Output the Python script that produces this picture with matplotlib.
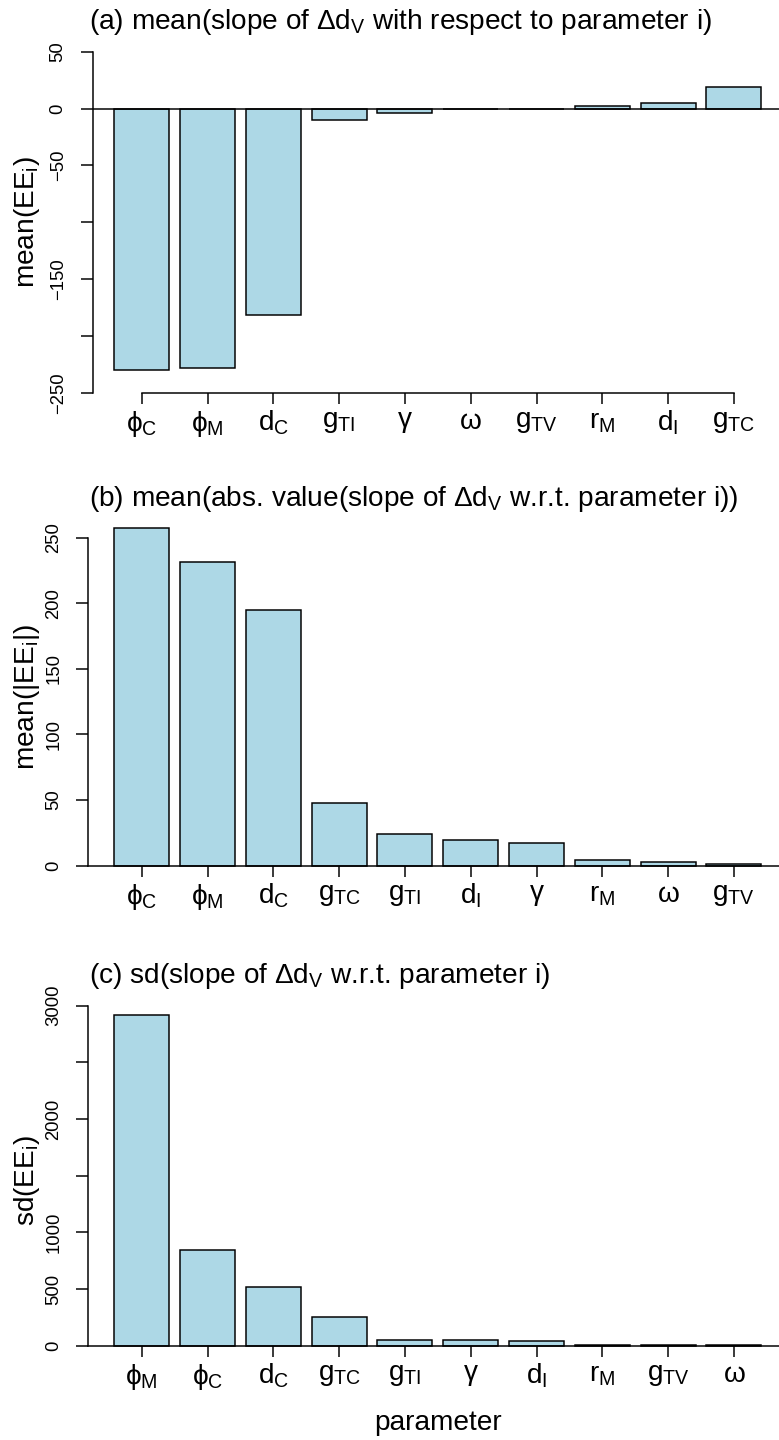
import matplotlib
matplotlib.use('Agg')
import matplotlib.pyplot as plt
import numpy as np

plt.rcParams['font.family'] = ['Liberation Sans', 'DejaVu Sans']
plt.rcParams['mathtext.fontset'] = 'custom'
plt.rcParams['mathtext.rm'] = 'Liberation Sans'
plt.rcParams['mathtext.it'] = 'Liberation Sans'
plt.rcParams['mathtext.bf'] = 'Liberation Sans:bold'
plt.rcParams['mathtext.sf'] = 'Liberation Sans'

# ---------------- data ----------------
labels_a = [r'$\phi_{\mathrm{C}}$', r'$\phi_{\mathrm{M}}$', r'$\mathrm{d}_{\mathrm{C}}$',
            r'$\mathrm{g}_{\mathrm{TI}}$', r'$\gamma$', r'$\omega$',
            r'$\mathrm{g}_{\mathrm{TV}}$', r'$\mathrm{r}_{\mathrm{M}}$',
            r'$\mathrm{d}_{\mathrm{I}}$', r'$\mathrm{g}_{\mathrm{TC}}$']
mean_ee = [-230, -228, -182, -9.7, -3.5, -0.6, -0.4, 1.8, 5.3, 19]

labels_b = [r'$\phi_{\mathrm{C}}$', r'$\phi_{\mathrm{M}}$', r'$\mathrm{d}_{\mathrm{C}}$',
            r'$\mathrm{g}_{\mathrm{TC}}$', r'$\mathrm{g}_{\mathrm{TI}}$', r'$\mathrm{d}_{\mathrm{I}}$',
            r'$\gamma$', r'$\mathrm{r}_{\mathrm{M}}$', r'$\omega$', r'$\mathrm{g}_{\mathrm{TV}}$']
mean_abs_ee = [257, 231, 195, 47.5, 24.4, 19.3, 17.0, 4.1, 2.5, 1.0]

labels_c = [r'$\phi_{\mathrm{M}}$', r'$\phi_{\mathrm{C}}$', r'$\mathrm{d}_{\mathrm{C}}$',
            r'$\mathrm{g}_{\mathrm{TC}}$', r'$\mathrm{g}_{\mathrm{TI}}$', r'$\gamma$',
            r'$\mathrm{d}_{\mathrm{I}}$', r'$\mathrm{r}_{\mathrm{M}}$',
            r'$\mathrm{g}_{\mathrm{TV}}$', r'$\omega$']
sd_ee = [2913, 844, 518, 256, 53, 47, 41, 10, 6, 3]

yticks_a = [-250, -200, -150, -100, -50, 0, 50]
yticklabels_a = ['\u2212250', '', '\u2212150', '', '\u221250', '0', '50']
yticks_b = [0, 50, 100, 150, 200, 250]
yticklabels_b = ['0', '50', '100', '150', '200', '250']
yticks_c = [0, 500, 1000, 1500, 2000, 2500, 3000]
yticklabels_c = ['0', '500', '1000', '', '2000', '', '3000']

title_a = r'(a) mean(slope of $\Delta\mathrm{d}_{\mathrm{V}}$ with respect to parameter i)'
title_b = r'(b) mean(abs. value(slope of $\Delta\mathrm{d}_{\mathrm{V}}$ w.r.t. parameter i))'
title_c = r'(c) sd(slope of $\Delta\mathrm{d}_{\mathrm{V}}$ w.r.t. parameter i)'
ylabel_a = r'mean(EE$_{\mathrm{i}}$)'
ylabel_b = r'mean(|EE$_{\mathrm{i}}$|)'
ylabel_c = r'sd(EE$_{\mathrm{i}}$)'
xlabel_c = 'parameter'

# ---------------- layout (pixels) ----------------
W, H = 779, 1440
PT = 0.72            # points per pixel at dpi=100
X0, DX = 141.7, 65.8  # first bar centre, spacing (px)
BAR_W = 55.0 / DX
LW = 1.5 * PT
BIG = 28 * PT
SMALL = 18.5 * PT
FILL = '#ADD8E6'

fig = plt.figure(figsize=(W / 100, H / 100), dpi=100)


def px_axes(left, top, right, bottom):
    return fig.add_axes([left / W, 1 - bottom / H, (right - left) / W, (bottom - top) / H])


def panel(left, top, bottom, values, xlabels, ylim, yticks, yticklabels,
          axis_at_zero, title, title_y, ylabel):
    ax = px_axes(left, top, W, bottom)
    x = np.arange(len(values))
    ax.bar(x, values, width=BAR_W, color=FILL, edgecolor='black', linewidth=LW, zorder=2)
    ax.set_xlim((left - X0) / DX, (W - X0) / DX)
    ax.set_ylim(*ylim)
    ax.patch.set_alpha(0)
    for s in ('top', 'right'):
        ax.spines[s].set_visible(False)
    ax.spines['left'].set_bounds(yticks[0], yticks[-1])
    ax.spines['left'].set_linewidth(LW)
    ax.spines['bottom'].set_linewidth(LW)
    if axis_at_zero:
        ax.spines['bottom'].set_position(('data', 0))
    else:
        ax.spines['bottom'].set_bounds(x[0], x[-1])
        ax.axhline(0, color='black', linewidth=LW, zorder=3)
    ax.set_yticks(yticks, yticklabels, rotation=90, va='center')
    ax.set_xticks(x, xlabels)
    ax.tick_params(axis='y', length=12 * PT, width=LW, pad=14 * PT, labelsize=SMALL)
    ax.tick_params(axis='x', length=11 * PT, width=LW, pad=5 * PT, labelsize=BIG)
    fig.text(89 / W, 1 - title_y / H, title, fontsize=BIG, ha='left', va='baseline')
    fig.text(27.5 / W, 1 - (top + bottom) / 2 / H, ylabel, fontsize=BIG,
             rotation=90, ha='center', va='center')
    return ax


panel(92.7, 51.7, 392.7, mean_ee, labels_a, (-250, 50), yticks_a, yticklabels_a,
      False, title_a, 29, ylabel_a)
panel(88.4, 514.7, 879.2, mean_abs_ee, labels_b, (-10.3, 267.4), yticks_b, yticklabels_b,
      True, title_b, 506, ylabel_b)
ax_c = panel(88.4, 1002.2, 1358.9, sd_ee, labels_c, (-116.5, 3029.5), yticks_c, yticklabels_c,
             True, title_c, 983, ylabel_c)
fig.text(437.6 / W, 1 - 1430 / H, xlabel_c, fontsize=BIG, ha='center', va='baseline')

fig.savefig('out.png', dpi=100)
